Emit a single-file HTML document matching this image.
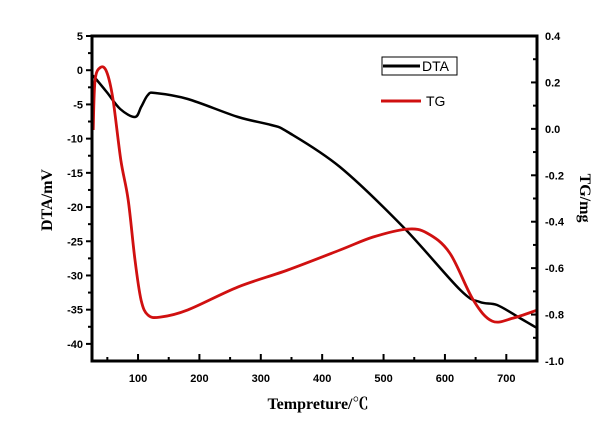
<!DOCTYPE html>
<html><head><meta charset="utf-8"><style>
html,body{margin:0;padding:0;background:#fff;}
svg{display:block;}
.tk{font-family:"Liberation Sans",Arial,sans-serif;font-size:11px;font-weight:bold;fill:#000;}
.ttl{font-family:"Liberation Serif","Noto Serif CJK SC",serif;font-size:16px;font-weight:bold;fill:#000;}
.lg{font-family:"Liberation Sans",Arial,sans-serif;font-size:14px;fill:#000;}
</style></head><body>
<svg id="chart" width="600" height="439" viewBox="0 0 600 439">
<g id="grid"></g>
<g id="series"></g>
<g id="axes"></g>
<g>
<rect x="382" y="57" width="75" height="18" fill="#fff" stroke="#000" stroke-width="1"/>
<line x1="383" y1="66" x2="420" y2="66" stroke="#000" stroke-width="3"/>
<text x="422" y="71" class="lg">DTA</text>
<line x1="381" y1="101" x2="421" y2="101" stroke="#d01010" stroke-width="3"/>
<text x="426" y="106" class="lg">TG</text>
</g>
<text class="ttl" transform="translate(52,200) rotate(-90)" text-anchor="middle">DTA/mV</text>
<text class="ttl" transform="translate(580,198) rotate(90)" text-anchor="middle">TG/mg</text>
<text class="ttl" x="318" y="409" text-anchor="middle">Tempreture/℃</text>
</svg>
<script>
const dtaT=[25,30,49,71,95,105,116,128,181,263,317,344,429,532,625,657,685,722,750];
const dtaV=[-0.7,-1.14,-3.18,-5.67,-6.84,-5.38,-3.62,-3.33,-4.21,-6.84,-8.01,-9.03,-14.15,-22.92,-32.12,-33.88,-34.32,-36.22,-37.68];
const tgT=[27,30,39,49,59,72,84,95,105,116,136,181,263,344,429,483,538,571,608,646,677,711,750];
const tgV=[-0.005,0.21,0.265,0.245,0.13,-0.134,-0.307,-0.565,-0.738,-0.802,-0.811,-0.78,-0.681,-0.608,-0.522,-0.466,-0.432,-0.449,-0.535,-0.737,-0.828,-0.815,-0.781];
const xTicks=[100,200,300,400,500,600,700];
const yLeftTicks=[5,0,-5,-10,-15,-20,-25,-30,-35,-40];
const yRightTicks=[0.4,0.2,0.0,-0.2,-0.4,-0.6,-0.8,-1.0];

const L=92,R=537,T=36,B=361;
const xMin=25,xMax=750,ylMax=5,ylMin=-42.5,yrMax=0.4,yrMin=-1.0;
const sx=v=>L+(v-xMin)/(xMax-xMin)*(R-L);
const syl=v=>T+(ylMax-v)/(ylMax-ylMin)*(B-T);
const syr=v=>T+(yrMax-v)/(yrMax-yrMin)*(B-T);
const NS='http://www.w3.org/2000/svg';
function mk(tag,attrs,parent){const e=document.createElementNS(NS,tag);for(const k in attrs)e.setAttribute(k,attrs[k]);parent.appendChild(e);return e;}
const series=document.getElementById('series'),axes=document.getElementById('axes');

function smooth(pts){let d='M'+pts[0][0].toFixed(1)+','+pts[0][1].toFixed(1);
for(let i=0;i<pts.length-1;i++){const p0=pts[Math.max(0,i-1)],p1=pts[i],p2=pts[i+1],p3=pts[Math.min(pts.length-1,i+2)];
const c1=[p1[0]+(p2[0]-p0[0])/6,p1[1]+(p2[1]-p0[1])/6],c2=[p2[0]-(p3[0]-p1[0])/6,p2[1]-(p3[1]-p1[1])/6];
d+=' C'+c1.map(n=>n.toFixed(1))+' '+c2.map(n=>n.toFixed(1))+' '+p2.map(n=>n.toFixed(1));}return d;}

const dtaPath=mk('path',{d:smooth(dtaT.map((t,i)=>[sx(t),syl(dtaV[i])])),fill:'none',stroke:'#000','stroke-width':2.5},series);


const tgPath=mk('path',{d:smooth(tgT.map((t,i)=>[sx(t),syr(tgV[i])])),fill:'none',stroke:'#d01010','stroke-width':2.8},series);



const frame=mk('rect',{x:L,y:T,width:R-L,height:B-T,fill:'none',stroke:'#000','stroke-width':3},axes);



for(let v=50;v<=750;v+=50){const x=sx(v);const major=v%100===0;
 const tk=mk('line',{x1:x,y1:B,x2:x,y2:B-(major?7:4),stroke:'#000','stroke-width':2},axes);
 
 }
xTicks.forEach(v=>{const t=mk('text',{x:sx(v),y:B+21,'text-anchor':'middle',class:'tk'},axes);t.textContent=v;
 
 });
for(let v=5;v>=-40;v-=2.5){const y=syl(v);const major=v%5===0;
 const tk=mk('line',{x1:L,y1:y,x2:L-(major?6:4),y2:y,stroke:'#000','stroke-width':2},axes);
 
 }
yLeftTicks.forEach(v=>{const t=mk('text',{x:L-9,y:syl(v)+4,'text-anchor':'end',class:'tk'},axes);t.textContent=v;
 
 });
for(let v=0.4;v>=-1.0001;v-=0.1){const y=syr(v);const major=Math.abs(Math.round(v*10))%2===0;
 const tk=mk('line',{x1:R,y1:y,x2:R-(major?6:4),y2:y,stroke:'#000','stroke-width':2},axes);
 
 }
yRightTicks.forEach(v=>{const t=mk('text',{x:R+8,y:syr(v)+4,'text-anchor':'start',class:'tk'},axes);t.textContent=v.toFixed(1);
 
 });
</script>
</body></html>
